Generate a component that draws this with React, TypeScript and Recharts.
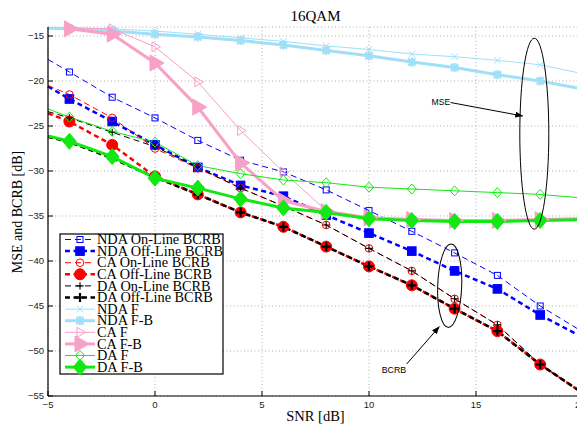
import React from 'react';
import { LineChart, Line, XAxis, YAxis, CartesianGrid } from 'recharts';

const snr = [-5, -4, -2, 0, 2, 4, 6, 8, 10, 12, 14, 16, 18, 20];
const ndaOnLine = [-17.6, -19.0, -21.8, -24.1, -26.6, -28.8, -30.1, -32.1, -34.4, -36.7, -39.1, -41.6, -45.0, -47.9];
const ndaOffLine = [-20.6, -22.0, -24.5, -27.1, -29.6, -31.6, -32.8, -34.9, -36.9, -38.9, -41.1, -43.1, -46.0, -48.5];
const caOnLine = [-20.5, -21.5, -24.1, -27.5, -29.7, -31.9, -33.9, -36.0, -38.6, -41.1, -44.2, -47.1, -51.5, -54.7];
const caOffLine = [-23.6, -24.5, -27.1, -30.6, -32.6, -34.6, -36.2, -38.4, -40.6, -42.7, -45.3, -47.8, -51.5, -54.7];
const daOnLine = [-23.4, -24.1, -25.7, -27.3, -29.6, -31.9, -33.9, -36.0, -38.6, -41.1, -44.2, -47.1, -51.5, -54.7];
const daOffLine = [-26.2, -26.8, -28.6, -30.7, -32.6, -34.6, -36.2, -38.4, -40.6, -42.7, -45.3, -47.8, -51.5, -54.7];
const ndaF = [-14.05, -14.1, -14.2, -14.45, -14.8, -15.2, -15.6, -16.1, -16.5, -17.0, -17.3, -17.7, -18.2, -19.2];
const ndaFB = [-14.15, -14.2, -14.45, -14.8, -15.1, -15.5, -16.0, -16.6, -17.2, -17.9, -18.5, -19.3, -20.0, -20.9];
const caF = [null, -14.1, -14.2, -16.2, -20.1, -25.5, -30.1, -34.4, -35.2, -35.4, -35.5, -35.5, -35.4, -35.3];
const caFB = [null, -14.2, -14.8, -18.0, -22.9, -29.1, -33.3, -34.5, -35.2, -35.4, -35.5, -35.5, -35.4, -35.3];
const daF = [-23.1, -24.0, -25.6, -26.8, -29.4, -30.3, -31.0, -31.3, -31.8, -32.0, -32.2, -32.4, -32.6, -33.0];
const daFB = [-26.1, -26.7, -28.4, -30.8, -31.9, -33.1, -34.1, -34.6, -35.3, -35.5, -35.6, -35.6, -35.5, -35.4];

const xTicks = [-5, 0, 5, 10, 15, 20];
const yTicks = [-55, -50, -45, -40, -35, -30, -25, -20, -15];

const BLUE = '#0000ff';
const RED = '#ff0000';
const BLACK = '#000000';
const LBLUE = '#9fe0f8';
const PINK = '#f8a0c6';
const GREEN = '#12e812';

type Kind =
  | 'sqOpen' | 'sqFill' | 'cOpen' | 'cFill' | 'plus' | 'plusBold'
  | 'x' | 'star' | 'triOpen' | 'triFill' | 'diaOpen' | 'diaFill';

interface SeriesCfg {
  key: string;
  name: string;
  values: (number | null)[];
  color: string;
  width: number;
  dash?: string;
  kind: Kind;
}

const series: SeriesCfg[] = [
  { key: 'ndaOn', name: 'NDA On-Line BCRB', values: ndaOnLine, color: BLUE, width: 1, dash: '6 4', kind: 'sqOpen' },
  { key: 'ndaOff', name: 'NDA Off-Line BCRB', values: ndaOffLine, color: BLUE, width: 2.5, dash: '5 3.5', kind: 'sqFill' },
  { key: 'caOn', name: 'CA On-Line BCRB', values: caOnLine, color: RED, width: 1, dash: '6 4', kind: 'cOpen' },
  { key: 'caOff', name: 'CA Off-Line BCRB', values: caOffLine, color: RED, width: 2.5, dash: '5 3.5', kind: 'cFill' },
  { key: 'daOn', name: 'DA On-Line BCRB', values: daOnLine, color: BLACK, width: 1, dash: '6 4', kind: 'plus' },
  { key: 'daOff', name: 'DA Off-Line BCRB', values: daOffLine, color: BLACK, width: 2.5, dash: '5 3.5', kind: 'plusBold' },
  { key: 'ndaF', name: 'NDA F', values: ndaF, color: LBLUE, width: 1, kind: 'x' },
  { key: 'ndaFB', name: 'NDA F-B', values: ndaFB, color: LBLUE, width: 3, kind: 'star' },
  { key: 'caF', name: 'CA F', values: caF, color: PINK, width: 1, kind: 'triOpen' },
  { key: 'caFB', name: 'CA F-B', values: caFB, color: PINK, width: 3, kind: 'triFill' },
  { key: 'daF', name: 'DA F', values: daF, color: GREEN, width: 1, kind: 'diaOpen' },
  { key: 'daFB', name: 'DA F-B', values: daFB, color: GREEN, width: 3, kind: 'diaFill' },
];

const rows = snr.map((s, i) => {
  const r: Record<string, number | null> = { snr: s };
  series.forEach((c) => { r[c.key] = c.values[i]; });
  return r;
});

function marker(kind: Kind, cx: number, cy: number, color: string, key?: string) {
  switch (kind) {
    case 'sqOpen':
      return <rect key={key} x={cx - 3} y={cy - 3} width={6} height={6} fill="none" stroke={color} strokeWidth={1} />;
    case 'sqFill':
      return <rect key={key} x={cx - 4.3} y={cy - 4.3} width={8.6} height={8.6} fill={color} stroke={color} strokeWidth={1} />;
    case 'cOpen':
      return <circle key={key} cx={cx} cy={cy} r={3.8} fill="none" stroke={color} strokeWidth={1} />;
    case 'cFill':
      return <circle key={key} cx={cx} cy={cy} r={5.5} fill={color} stroke={color} strokeWidth={1} />;
    case 'plus':
      return (
        <path key={key} d={`M${cx - 3.6},${cy}H${cx + 3.6}M${cx},${cy - 3.6}V${cy + 3.6}`} stroke={color} strokeWidth={1.1} fill="none" />
      );
    case 'plusBold':
      return (
        <path key={key} d={`M${cx - 4.6},${cy}H${cx + 4.6}M${cx},${cy - 4.6}V${cy + 4.6}`} stroke={color} strokeWidth={2.2} fill="none" />
      );
    case 'x':
      return (
        <path key={key} d={`M${cx - 3.3},${cy - 3.3}L${cx + 3.3},${cy + 3.3}M${cx - 3.3},${cy + 3.3}L${cx + 3.3},${cy - 3.3}`} stroke={color} strokeWidth={1} fill="none" />
      );
    case 'star':
      return (
        <path key={key} d={`M${cx - 3.6},${cy - 3.6}L${cx + 3.6},${cy + 3.6}M${cx - 3.6},${cy + 3.6}L${cx + 3.6},${cy - 3.6}M${cx - 4.6},${cy}H${cx + 4.6}M${cx},${cy - 4.6}V${cy + 4.6}`} stroke={color} strokeWidth={2.2} fill="none" />
      );
    case 'triOpen':
      return (
        <path key={key} d={`M${cx + 5.5},${cy}L${cx - 3},${cy - 5}L${cx - 3},${cy + 5}Z`} stroke={color} strokeWidth={1} fill="none" />
      );
    case 'triFill':
      return (
        <path key={key} d={`M${cx + 9},${cy}L${cx - 5},${cy - 8}L${cx - 5},${cy + 8}Z`} stroke={color} strokeWidth={1} fill={color} />
      );
    case 'diaOpen':
      return (
        <path key={key} d={`M${cx},${cy - 5}L${cx + 4.5},${cy}L${cx},${cy + 5}L${cx - 4.5},${cy}Z`} stroke={color} strokeWidth={1} fill="none" />
      );
    case 'diaFill':
    default:
      return (
        <path key={key} d={`M${cx},${cy - 8}L${cx + 6.8},${cy}L${cx},${cy + 8}L${cx - 6.8},${cy}Z`} stroke={color} strokeWidth={1} fill={color} />
      );
  }
}

const makeDot = (c: SeriesCfg) => (p: any) => {
  const k = `${c.key}-${p.index}`;
  if (p.payload == null || p.payload.snr === -5 || p.value == null || p.cx == null || p.cy == null) {
    return <g key={k} />;
  }
  return marker(c.kind, p.cx, p.cy, c.color, k);
};

const fmt = (v: number) => (v < 0 ? `\u2212${Math.abs(v)}` : `${v}`);
const tickStyle = { fontFamily: '"Liberation Sans", Arial, sans-serif', fontSize: 9.5, fill: '#222' };
const serif = '"Liberation Serif", "Times New Roman", serif';
const sans = '"Liberation Sans", Arial, sans-serif';

function Overlay() {
  const rowY0 = 231.5;
  const rowH = 11.6;
  return (
    <svg width={577} height={420} style={{ position: 'absolute', left: 0, top: 0, pointerEvents: 'none' }}>
      <defs>
        <marker id="ah" markerWidth="8" markerHeight="6" refX="7.5" refY="3" orient="auto" markerUnits="userSpaceOnUse">
          <path d="M0,0L8,3L0,6Z" fill="#000" />
        </marker>
      </defs>
      <text x={307.5} y={12.5} textAnchor="middle" fontFamily={serif} fontSize={15}>16QAM</text>
      <text x={307.5} y={413} textAnchor="middle" fontFamily={serif} fontSize={14.5}>SNR [dB]</text>
      <text x={14} y={204} textAnchor="middle" fontFamily={serif} fontSize={14} transform="rotate(-90 14 204)">MSE and BCRB [dB]</text>

      <ellipse cx={526.3} cy={125.7} rx={14.5} ry={95.5} fill="none" stroke="#000" strokeWidth={1} />
      <text x={423.5} y={97.2} fontFamily={sans} fontSize={8.6}>MSE</text>
      <line x1={442.5} y1={94.5} x2={514.7} y2={108} stroke="#000" strokeWidth={1} markerEnd="url(#ah)" />

      <ellipse cx={441.7} cy={277.7} rx={12} ry={41.7} fill="none" stroke="#000" strokeWidth={1} transform="rotate(2 441.7 277.7)" />
      <text x={373.7} y={365.3} fontFamily={sans} fontSize={8.8}>BCRB</text>
      <line x1={398.7} y1={356} x2={431.3} y2={318.7} stroke="#000" strokeWidth={1} markerEnd="url(#ah)" />

      <rect x={52} y={226} width={163} height={140} fill="#fff" stroke="#000" strokeWidth={1.2} />
      {series.map((c, i) => {
        const cy = rowY0 + i * rowH;
        return (
          <g key={c.key}>
            <line x1={57} y1={cy} x2={87} y2={cy} stroke={c.color} strokeWidth={c.width} strokeDasharray={c.dash} />
            {marker(c.kind, 72, cy, c.color)}
            <text x={89} y={cy + 4.7} fontFamily={serif} fontSize={14.3} fill="#000">{c.name}</text>
          </g>
        );
      })}
    </svg>
  );
}

export default function App() {
  return (
    <div style={{ position: 'relative', width: 577, height: 420, background: '#fff' }}>
      <style>{'#root{width:577px;overflow:visible}svg.recharts-surface{overflow:visible}'}</style>
      <LineChart width={577} height={420} data={rows} margin={{ top: 19, right: 2, left: 0, bottom: 0 }}>
        <CartesianGrid stroke="#9a9a9a" strokeDasharray="1 2.5" strokeWidth={0.8} />
        <XAxis
          dataKey="snr"
          type="number"
          domain={[-5, 20]}
          ticks={xTicks}
          height={32}
          tickSize={-5}
          tickMargin={10}
          tickFormatter={fmt}
          tick={tickStyle}
          axisLine={{ stroke: '#000', strokeWidth: 1.2 }}
          tickLine={{ stroke: '#000' }}
        />
        <XAxis
          xAxisId="top"
          orientation="top"
          dataKey="snr"
          type="number"
          domain={[-5, 20]}
          ticks={xTicks}
          height={0}
          tickSize={-5}
          tick={false}
          axisLine={{ stroke: '#000', strokeWidth: 1.2 }}
          tickLine={{ stroke: '#000' }}
        />
        <YAxis
          type="number"
          domain={[-55, -14]}
          ticks={yTicks}
          width={40}
          tickSize={-5}
          tickMargin={9}
          tickFormatter={fmt}
          tick={tickStyle}
          axisLine={{ stroke: '#000', strokeWidth: 1.2 }}
          tickLine={{ stroke: '#000' }}
        />
        <YAxis
          yAxisId="right"
          orientation="right"
          type="number"
          domain={[-55, -14]}
          ticks={yTicks}
          width={0}
          tickSize={-5}
          tick={false}
          axisLine={{ stroke: '#000', strokeWidth: 1.2 }}
          tickLine={{ stroke: '#000' }}
        />
        {series.map((c) => (
          <Line
            key={c.key}
            dataKey={c.key}
            type="linear"
            stroke={c.color}
            strokeWidth={c.width}
            strokeDasharray={c.dash}
            dot={makeDot(c)}
            activeDot={false}
            isAnimationActive={false}
            connectNulls={false}
          />
        ))}
      </LineChart>
      <Overlay />
    </div>
  );
}
